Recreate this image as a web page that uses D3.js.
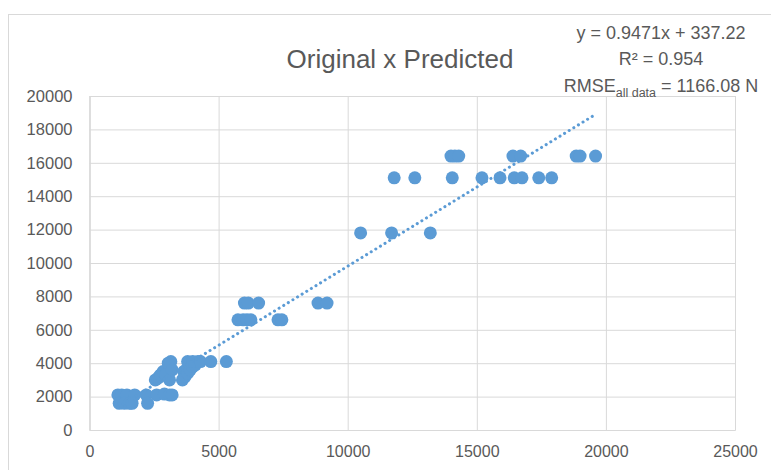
<!DOCTYPE html>
<html>
<head>
<meta charset="utf-8">
<script src="https://cdn.jsdelivr.net/npm/d3@7"></script>
<style>
  body { margin: 0; background: #fff; }
  text { font-family: "Liberation Sans", Arial, sans-serif; fill: #595959; }
</style>
</head>
<body>
<div id="chart"></div>
<script>
// predicted (x) vs original (y)
const predicted = [
    1100, 1250, 1450, 1750, 2200, 2600, 2900, 3100, 3200,
    1150, 1350, 1550, 1650, 2250,
    2550, 2650, 2700, 2750, 2850, 2950, 3050, 3100, 3150, 3200,
    3600, 3650, 3700, 3750, 3800, 3900, 4000, 4100, 4200, 3800, 4000, 4300,
    4700, 5300,
    5750, 5950, 6100, 6250, 7300, 7450,
    6000, 6150, 6550, 8850, 9200,
    10500, 11700, 13200,
    11800, 12600, 14050, 15200, 15900, 16450, 16750, 17400, 17900,
    14000, 14150, 14300, 16400, 16700, 18850, 19000, 19600
]
const original = [
    2100, 2100, 2100, 2100, 2100, 2100, 2150, 2100, 2100,
    1600, 1600, 1600, 1600, 1600,
    3000, 3100, 3200, 3300, 3500, 3300, 4000, 3000, 4100, 3600,
    3000, 3500, 3200, 3600, 3400, 3600, 3800, 3900, 4100, 4100, 4100, 4100,
    4100, 4100,
    6600, 6600, 6600, 6600, 6600, 6600,
    7600, 7600, 7600, 7600, 7600,
    11800, 11800, 11800,
    15100, 15100, 15100, 15100, 15100, 15100, 15100, 15100, 15100,
    16400, 16400, 16400, 16400, 16400, 16400, 16400, 16400
]
const xTicks = [0, 5000, 10000, 15000, 20000, 25000]
const yTicks = [0, 2000, 4000, 6000, 8000, 10000, 12000, 14000, 16000, 18000, 20000]
const slope = 0.9471
const intercept = 337.22
const annotation = ["y = 0.9471x + 337.22", "R² = 0.954", "= 1166.08 N"]

let W = 771, H = 470
let margin = { top: 96, right: 36, bottom: 40, left: 89.5 }
let width = W - margin.left - margin.right
let height = H - margin.top - margin.bottom

const points = predicted.map((p, i) => ({ x: p, y: original[i] }))

let svg = d3.select("#chart")
    .append("svg")
    .attr("width", W)
    .attr("height", H)

// chart frame
svg.append("rect")
    .attr("x", 8.5).attr("y", 14.5)
    .attr("width", 800).attr("height", 500)
    .attr("fill", "#fff")
    .attr("stroke", "#d9d9d9")

let g = svg.append("g")
    .attr("transform", "translate(" + margin.left + "," + margin.top + ")")

let x = d3.scaleLinear().domain([0, 25000]).range([0, width])
let y = d3.scaleLinear().domain([0, 20000]).range([height, 0])

// gridlines + axes
g.append("g")
    .attr("transform", "translate(0," + height + ")")
    .call(d3.axisBottom(x).tickValues(xTicks).tickSize(-height).tickFormat(d => d).tickPadding(16))
    .call(a => a.select(".domain").attr("stroke", "#d9d9d9"))
    .call(a => a.selectAll(".tick line").attr("stroke", "#d9d9d9"))
    .call(a => a.selectAll("text").attr("fill", "#595959").style("font-size", "16px")
        .style("font-family", "Liberation Sans, Arial, sans-serif"))

g.append("g")
    .call(d3.axisLeft(y).tickValues(yTicks).tickSize(-width).tickFormat(d => d).tickPadding(17))
    .call(a => a.select(".domain").attr("stroke", "#d9d9d9"))
    .call(a => a.selectAll(".tick line").attr("stroke", "#d9d9d9"))
    .call(a => a.selectAll("text").attr("fill", "#595959").style("font-size", "16.5px")
        .style("font-family", "Liberation Sans, Arial, sans-serif"))

// points
g.selectAll(".pt")
    .data(points)
    .enter()
    .append("circle")
    .attr("class", "pt")
    .attr("cx", d => x(d.x))
    .attr("cy", d => y(d.y))
    .attr("r", 6.5)
    .attr("fill", "#5b9bd5")

// linear trendline (dotted)
const xMin = d3.min(predicted), xMax = d3.max(predicted)
g.append("path")
    .datum([xMin, xMax])
    .attr("fill", "none")
    .attr("stroke", "#5b9bd5")
    .attr("stroke-width", 3)
    .attr("stroke-linecap", "round")
    .attr("stroke-dasharray", "0.1 5.3")
    .attr("d", d3.line().x(d => x(d)).y(d => y(slope * d + intercept)))

// title
svg.append("text")
    .attr("x", 400).attr("y", 68)
    .attr("text-anchor", "middle")
    .style("font-size", "26px")
    .text("Original x Predicted")

// equation box
svg.append("text")
    .attr("x", 661).attr("y", 39)
    .attr("text-anchor", "middle")
    .style("font-size", "18px")
    .text(annotation[0])

svg.append("text")
    .attr("x", 661).attr("y", 65)
    .attr("text-anchor", "middle")
    .style("font-size", "18px")
    .text(annotation[1])

let rmse = svg.append("text")
    .attr("x", 661).attr("y", 92)
    .attr("text-anchor", "middle")
    .style("font-size", "18px")
rmse.append("tspan").text("RMSE")
rmse.append("tspan").attr("dy", 5).style("font-size", "12.5px").text("all data")
rmse.append("tspan").attr("dy", -5).text(" " + annotation[2])
</script>
</body>
</html>
